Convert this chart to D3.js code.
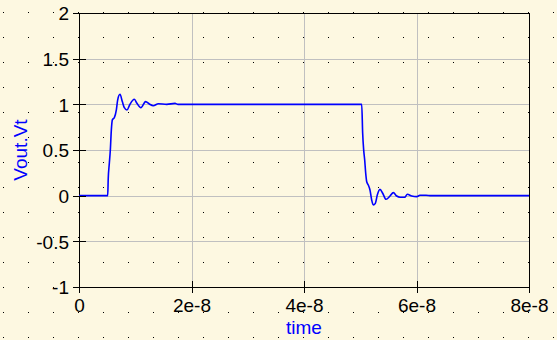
<!DOCTYPE html>
<html>
<head>
<meta charset="utf-8">
<script src="https://cdn.jsdelivr.net/npm/d3@7"></script>
<style>
  body { margin: 0; background: #fdf8e1; }
  svg { display: block; }
</style>
</head>
<body>
<svg id="chart"></svg>
<script>
// transient response, time in ns
let timeNs = [0, 5.1, 5.2, 5.39, 5.57, 5.75, 5.93, 6.28, 6.64, 6.87, 7.29, 7.7, 8.06, 8.53, 9.0,
    9.84, 10.3, 11.0, 11.85, 12.5, 13.2, 14.1, 15.6, 17.07, 17.6,
    50.26, 50.43, 50.61, 50.79, 50.97, 51.15, 51.43, 51.73, 52.03, 52.32, 52.68, 53.03,
    53.51, 53.99, 54.58, 55.29, 55.88, 56.48, 57.07, 57.9, 58.37, 59.15, 60.04, 60.6,
    61.7, 62.6, 80];
let vout = [0, 0, 0.19, 0.354, 0.5, 0.72, 0.83, 0.854, 0.94, 1.047, 1.11, 1.03, 0.963, 0.938, 0.993,
    1.055, 1.011, 0.963, 1.03, 1.004, 0.985, 1.007, 1.0, 1.01, 1.0,
    1.0, 0.683, 0.5, 0.39, 0.245, 0.153, 0.117, 0.062, -0.047, -0.102, -0.084, 0.007,
    0.069, 0.026, -0.04, -0.004, 0.033, -0.004, -0.018, -0.018, 0.015, -0.004, -0.011, 0.004,
    0.004, 0, 0];

let xTicks = [0, 2e-8, 4e-8, 6e-8, 8e-8];
let xTickLabels = ["0", "2e-8", "4e-8", "6e-8", "8e-8"];
let yTicks = [-1, -0.5, 0, 0.5, 1, 1.5, 2];
let yTickLabels = ["-1", "-0.5", "0", "0.5", "1", "1.5", "2"];

let width = 557, height = 340;
let plotLeft = 79, plotRight = 529, plotTop = 13, plotBottom = 287;

let svg = d3.select("#chart")
    .attr("width", width)
    .attr("height", height);

svg.append("rect")
    .attr("width", width)
    .attr("height", height)
    .attr("fill", "#fdf8e1");

// dotted background
let dots = [];
d3.range(3, width, 25).forEach(function (dx) {
    d3.range(12, height, 25).forEach(function (dy) {
        dots.push([dx, dy]);
    });
});
svg.append("g")
    .selectAll("rect")
    .data(dots)
    .enter()
    .append("rect")
    .attr("x", function (d) { return d[0] })
    .attr("y", function (d) { return d[1] })
    .attr("width", 1)
    .attr("height", 1)
    .attr("fill", "#000");

let x = d3.scaleLinear().domain([0, 8e-8]).range([plotLeft, plotRight]);
let y = d3.scaleLinear().domain([-1, 2]).range([plotBottom, plotTop]);

// grid
let grid = svg.append("g")
    .attr("stroke", "#c0c0c0")
    .attr("shape-rendering", "crispEdges");
grid.selectAll(".gx")
    .data(xTicks.slice(1, -1))
    .enter()
    .append("line")
    .attr("x1", function (d) { return x(d) + 0.5 })
    .attr("x2", function (d) { return x(d) + 0.5 })
    .attr("y1", plotTop)
    .attr("y2", plotBottom);
grid.selectAll(".gy")
    .data(yTicks.slice(1, -1))
    .enter()
    .append("line")
    .attr("x1", plotLeft)
    .attr("x2", plotRight)
    .attr("y1", function (d) { return y(d) + 0.5 })
    .attr("y2", function (d) { return y(d) + 0.5 });

// frame
svg.append("rect")
    .attr("x", plotLeft + 0.5)
    .attr("y", plotTop + 0.5)
    .attr("width", plotRight - plotLeft)
    .attr("height", plotBottom - plotTop)
    .attr("fill", "none")
    .attr("stroke", "#000")
    .attr("shape-rendering", "crispEdges");

// signal
let line = d3.line()
    .x(function (d, i) { return x(d * 1e-9) })
    .y(function (d, i) { return y(vout[i]) })
    .curve(d3.curveMonotoneX);

svg.append("path")
    .datum(timeNs)
    .attr("d", line)
    .attr("fill", "none")
    .attr("stroke", "#0000ff")
    .attr("stroke-width", 1.6);

// axes
let xAxis = d3.axisBottom(x)
    .tickValues(xTicks)
    .tickFormat(function (d, i) { return xTickLabels[i] })
    .tickSize(6);
let gx = svg.append("g")
    .attr("transform", "translate(0," + plotBottom + ")")
    .call(xAxis);
gx.select(".domain").remove();
gx.selectAll(".tick line").attr("y1", -6).attr("y2", 6).attr("shape-rendering", "crispEdges");
gx.selectAll(".tick text")
    .attr("y", 25)
    .attr("dy", null)
    .attr("fill", "#000")
    .style("font-family", "'Liberation Sans', Arial, sans-serif")
    .style("font-size", "19px");

let yAxis = d3.axisLeft(y)
    .tickValues(yTicks)
    .tickFormat(function (d, i) { return yTickLabels[i] })
    .tickSize(6);
let gy = svg.append("g")
    .attr("transform", "translate(" + plotLeft + ",0)")
    .call(yAxis);
gy.select(".domain").remove();
gy.selectAll(".tick line").attr("x1", -6).attr("x2", 7).attr("shape-rendering", "crispEdges");
gy.selectAll(".tick text")
    .attr("x", -10)
    .attr("dy", "0.36em")
    .attr("fill", "#000")
    .style("font-family", "'Liberation Sans', Arial, sans-serif")
    .style("font-size", "19px");

// titles
svg.append("text")
    .attr("x", (plotLeft + plotRight) / 2)
    .attr("y", 334)
    .attr("text-anchor", "middle")
    .attr("fill", "#0000ff")
    .style("font-family", "'Liberation Sans', Arial, sans-serif")
    .style("font-size", "19px")
    .text("time");

svg.append("text")
    .attr("transform", "translate(27," + (plotTop + plotBottom) / 2 + ") rotate(-90)")
    .attr("text-anchor", "middle")
    .attr("fill", "#0000ff")
    .style("font-family", "'Liberation Sans', Arial, sans-serif")
    .style("font-size", "19px")
    .text("Vout.Vt");
</script>
</body>
</html>
